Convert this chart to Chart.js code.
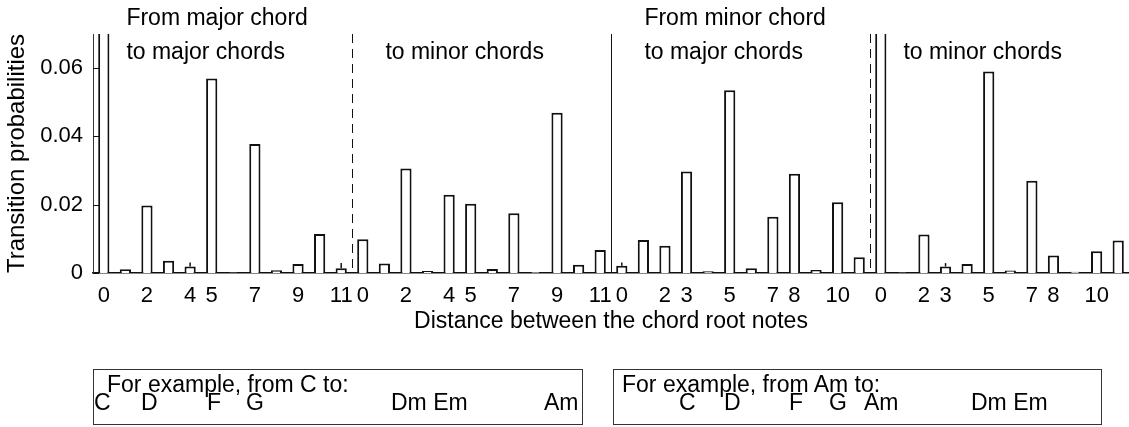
<!DOCTYPE html>
<html>
<head>
<meta charset="utf-8">
<script src="https://cdn.jsdelivr.net/npm/chart.js@4.4.1/dist/chart.umd.min.js"></script>
<style>
  body { margin: 0; background: #fff; }
  #wrap { position: relative; width: 1129px; height: 427px; font-family: "Liberation Sans", Arial, sans-serif; }
  #chart { position: absolute; left: 0; top: 0; }
  .box { position: absolute; top: 369px; height: 56px; border: 1px solid #333; box-sizing: border-box; }
  .box span { position: absolute; font-size: 23px; line-height: 23px; white-space: pre; color: #000; }
</style>
</head>
<body>
<div id="wrap">
  <canvas id="chart" width="1129" height="427"></canvas>
  <div class="box" style="left:93px; width:490px;">
    <span style="left:13px; top:3px;">For example, from C to:</span>
    <span style="left:0px; top:21px;">C</span>
    <span style="left:47px; top:21px;">D</span>
    <span style="left:113px; top:21px;">F</span>
    <span style="left:152px; top:21px;">G</span>
    <span style="left:297px; top:21px;">Dm Em</span>
    <span style="left:450px; top:21px;">Am</span>
  </div>
  <div class="box" style="left:613px; width:489px;">
    <span style="left:8px; top:3px;">For example, from Am to:</span>
    <span style="left:65px; top:21px;">C</span>
    <span style="left:110px; top:21px;">D</span>
    <span style="left:175px; top:21px;">F</span>
    <span style="left:215px; top:21px;">G</span>
    <span style="left:250px; top:21px;">Am</span>
    <span style="left:357px; top:21px;">Dm Em</span>
  </div>
</div>
<script>
const distances = [0, 1, 2, 3, 4, 5, 6, 7, 8, 9, 10, 11];
const majorTickLabels = ["0", "", "2", "", "4", "5", "", "7", "", "9", "", "11"];
const minorTickLabels = ["0", "", "2", "3", "", "5", "", "7", "8", "", "10", ""];
const yTicks = [0, 0.02, 0.04, 0.06];

// the two "stay on the same chord" bars run far off the top
const majorToMajor = [0.2, 0.0011, 0.0198, 0.0036, 0.0019, 0.057, 0.0002, 0.0378, 0.0008, 0.0026, 0.0114, 0.0014];
const majorToMinor = [0.0099, 0.0028, 0.0306, 0.0006, 0.0229, 0.0203, 0.0012, 0.0175, 0.0003, 0.0469, 0.0024, 0.0067];
const minorToMajor = [0.0021, 0.0097, 0.008, 0.0297, 0.0005, 0.0535, 0.0014, 0.0165, 0.0291, 0.0009, 0.0207, 0.0046];
const minorToMinor = [0.2, 0.0002, 0.0113, 0.0019, 0.0026, 0.059, 0.0007, 0.027, 0.0051, 0.0004, 0.0064, 0.0095];

const majorToMajorErr = [0, 0, 0, 0, 0.0012, 0, 0, 0, 0, 0, 0, 0.0015];
const majorToMinorErr = [0, 0, 0, 0, 0, 0, 0, 0, 0, 0, 0, 0];
const minorToMajorErr = [0.001, 0, 0, 0, 0, 0, 0, 0, 0, 0, 0, 0];
const minorToMinorErr = [0, 0, 0, 0.001, 0, 0, 0, 0, 0, 0, 0, 0];

const panelTitles = [
  ["From major chord", "to major chords"],
  ["", "to minor chords"],
  ["From minor chord", "to major chords"],
  ["", "to minor chords"]
];

const labels = [...distances, ...distances, ...distances, ...distances];
const tickLabels = [...majorTickLabels, ...majorTickLabels, ...minorTickLabels, ...minorTickLabels];
const values = [...majorToMajor, ...majorToMinor, ...minorToMajor, ...minorToMinor];
const errors = [...majorToMajorErr, ...majorToMinorErr, ...minorToMajorErr, ...minorToMinorErr];

const fontFamily = "'Liberation Sans', Arial, sans-serif";
Chart.defaults.font.family = fontFamily;
Chart.defaults.color = "#000";

const panelMarks = {
  id: "panelMarks",
  afterDatasetsDraw(chart) {
    const { ctx, chartArea: area, scales: { x, y } } = chart;
    ctx.save();
    ctx.strokeStyle = "#111";

    // small error whiskers above the tiny bars
    ctx.lineWidth = 1.5;
    errors.forEach((err, i) => {
      if (!err) return;
      const px = x.getPixelForValue(i);
      ctx.beginPath();
      ctx.moveTo(px, y.getPixelForValue(values[i]));
      ctx.lineTo(px, y.getPixelForValue(values[i] + err));
      ctx.stroke();
    });

    // panel separators: dashed inside a group, solid between groups
    ctx.lineWidth = 1;
    [12, 24, 36].forEach((idx) => {
      const px = Math.round((x.getPixelForValue(idx - 1) + x.getPixelForValue(idx)) / 2) + 0.5;
      ctx.setLineDash(idx === 24 ? [] : [9, 6]);
      ctx.beginPath();
      ctx.moveTo(px, area.top);
      ctx.lineTo(px, area.bottom);
      ctx.stroke();
    });
    ctx.setLineDash([]);

    // y tick marks pointing inward
    yTicks.forEach((v) => {
      const py = Math.round(y.getPixelForValue(v)) + 0.5;
      ctx.beginPath();
      ctx.moveTo(area.left, py);
      ctx.lineTo(area.left + 6, py);
      ctx.stroke();
    });

    // panel headings
    ctx.fillStyle = "#000";
    ctx.font = "23px " + fontFamily;
    ctx.textAlign = "left";
    ctx.textBaseline = "alphabetic";
    panelTitles.forEach((lines, p) => {
      const px = x.getPixelForValue(p * 12 + 1) + 1;
      ctx.fillText(lines[0], px, area.top - 9);
      ctx.fillText(lines[1], px, area.top + 25);
    });
    ctx.restore();
  }
};

new Chart(document.getElementById("chart"), {
  type: "bar",
  data: {
    labels: labels,
    datasets: [
      {
        data: values,
        backgroundColor: "#fff",
        borderColor: "#111",
        borderWidth: 2,
        borderSkipped: "bottom",
        barPercentage: 0.52,
        categoryPercentage: 1
      }
    ]
  },
  options: {
    responsive: false,
    animation: false,
    layout: { padding: { top: 34, left: 0, right: 0, bottom: 0 } },
    plugins: {
      legend: { display: false },
      tooltip: { enabled: false }
    },
    scales: {
      x: {
        grid: { display: false, drawTicks: false },
        border: { display: true, color: "#111", width: 1.5 },
        ticks: {
          autoSkip: false,
          maxRotation: 0,
          padding: 10,
          font: { size: 22 },
          callback: (value, index) => tickLabels[index]
        },
        title: {
          display: true,
          text: "Distance between the chord root notes",
          font: { size: 23 },
          padding: { top: 0, bottom: 92 }
        },
        afterFit: (scale) => { scale.height = 154; }
      },
      y: {
        min: 0,
        max: 0.07,
        grid: { display: false, drawTicks: false },
        border: { display: true, color: "#333", width: 1 },
        ticks: {
          padding: 10,
          font: { size: 22 },
          callback: (value) => (value === 0 ? "0" : value.toFixed(2))
        },
        afterBuildTicks: (scale) => { scale.ticks = yTicks.map((v) => ({ value: v })); },
        title: {
          display: true,
          text: "Transition probabilities",
          font: { size: 24 },
          padding: { top: 3, bottom: 0 }
        },
        afterFit: (scale) => { scale.width = 93; }
      }
    }
  },
  plugins: [panelMarks]
});
</script>
</body>
</html>
